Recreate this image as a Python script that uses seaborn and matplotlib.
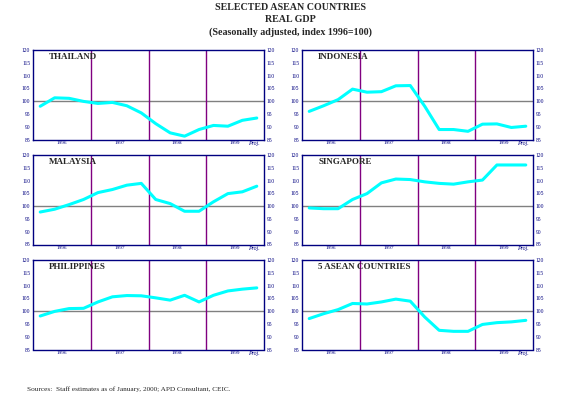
import numpy as np
import pandas as pd
import matplotlib
matplotlib.use("Agg")
import matplotlib.pyplot as plt
import seaborn as sns

sns.set_style("white")
plt.rcParams['font.family'] = ['Liberation Serif', 'DejaVu Serif']

# quarterly index values, 1996Q1 .. 1999Q4 (1996=100)
quarters = np.arange(16) + 0.5
years = ["1996", "1997", "1998", "1999"]

thailand = [98.0, 101.3, 101.1, 99.9, 99.1, 99.5, 98.2, 95.4,
            91.2, 87.6, 86.3, 88.9, 90.5, 90.2, 92.5, 93.4]
indonesia = [96.0, 98.2, 100.6, 104.7, 103.5, 103.7, 106.0, 106.1,
             98.0, 88.9, 88.9, 88.2, 91.0, 91.1, 89.7, 90.2]
malaysia = [97.7, 98.8, 100.6, 102.6, 105.3, 106.5, 108.2, 108.9,
            102.6, 101.0, 98.0, 98.0, 101.7, 104.9, 105.6, 107.8]
singapore = [99.3, 99.0, 99.0, 102.6, 104.9, 109.1, 110.6, 110.4,
             109.5, 108.9, 108.6, 109.5, 110.2, 116.1, 116.1, 116.1]
philippines = [98.1, 99.9, 101.0, 101.1, 103.6, 105.6, 106.1, 106.0,
               105.2, 104.3, 106.2, 103.6, 106.2, 107.9, 108.6, 109.1]
asean5 = [97.1, 99.0, 100.6, 103.0, 102.8, 103.6, 104.7, 103.9,
          97.7, 92.5, 92.1, 92.1, 94.8, 95.5, 95.8, 96.4]

panels = [
    ("THAILAND", thailand),
    ("INDONESIA", indonesia),
    ("MALAYSIA", malaysia),
    ("SINGAPORE", singapore),
    ("PHILIPPINES", philippines),
    ("5 ASEAN COUNTRIES", asean5),
]

navy = "#000080"
purple = "#800080"
cyan = "#00FFFF"

fig = plt.figure(figsize=(5.81, 4.08), dpi=100)

lefts = [33 / 581, 302 / 581]
tops = [50, 155, 260]
w = 231 / 581
h = 89.5 / 408

fig.text(0.5, 1 - 8 / 408, "SELECTED ASEAN COUNTRIES", ha="center", va="center",
         fontsize=7.2, fontweight="bold")
fig.text(0.5, 1 - 20 / 408, "REAL GDP", ha="center", va="center",
         fontsize=7.2, fontweight="bold")
fig.text(0.5, 1 - 32 / 408, "(Seasonally adjusted, index 1996=100)", ha="center",
         va="center", fontsize=7.2, fontweight="bold")

for k, (name, vals) in enumerate(panels):
    row, col = divmod(k, 2)
    ax = fig.add_axes([lefts[col], 1 - (tops[row] + 89.5) / 408, w, h])
    df = pd.DataFrame({"q": quarters, "v": vals})
    ax.axhline(100, color="#808080", lw=1.0, zorder=1)
    for xv in [4, 8, 12]:
        ax.axvline(xv, color=purple, lw=1.0, zorder=1)
    sns.lineplot(data=df, x="q", y="v", ax=ax, color=cyan, lw=2.2, zorder=3)
    ax.set_xlim(0, 16)
    ax.set_ylim(85, 120)
    ax.set_yticks(np.arange(85, 121, 5))
    ax.set_xticks([])
    ax.set_xlabel("")
    ax.set_ylabel("")
    ax.tick_params(axis="y", length=0, pad=2, labelsize=4, colors=navy,
                   labelright=True)
    for s in ax.spines.values():
        s.set_color(navy)
        s.set_linewidth(1.0)
    for i, yr in enumerate(years):
        ax.text(2 + 4 * i, 84.3, yr, ha="center", va="top", fontsize=3.8,
                color=navy)
    ax.text(15.3, 84.3, "Proj.", ha="center", va="top", fontsize=4.2,
            style="italic", color=navy)
    ax.text(0.07, 0.97, name, transform=ax.transAxes, ha="left", va="top",
            fontsize=6.5, fontweight="bold")

fig.text(27 / 581, 1 - 389 / 408,
         "Sources:  Staff estimates as of January, 2000; APD Consultant, CEIC.",
         ha="left", va="center", fontsize=5.2)

fig.savefig("out.png", dpi=100)
